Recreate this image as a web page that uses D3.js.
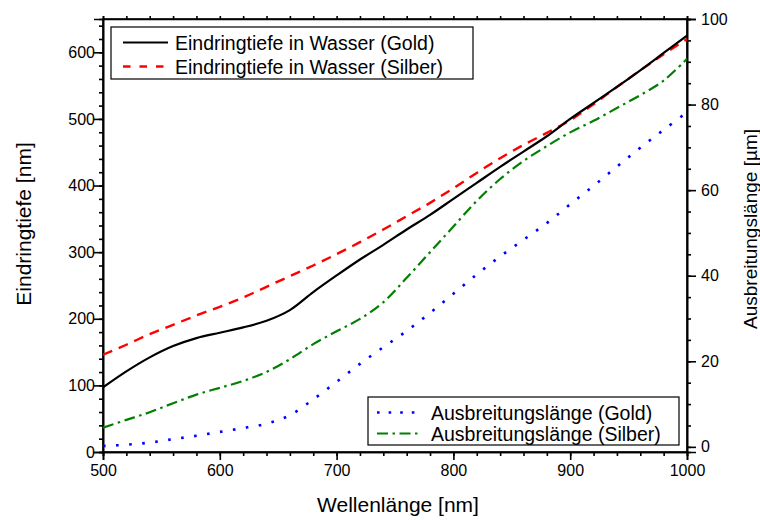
<!DOCTYPE html>
<html>
<head>
<meta charset="utf-8">
<script src="https://cdn.jsdelivr.net/npm/d3@7"></script>
<style>
  body { margin: 0; background: #fff; }
  svg { font-family: "Liberation Sans", Arial, sans-serif; }
</style>
</head>
<body>
<svg id="chart" width="760" height="520"></svg>
<script>
// ---- data ----
const wavelength = [500,520,540,560,580,600,620,640,660,680,700,720,740,760,780,800,820,840,860,880,900,920,940,960,980,1000];
const depthGold   = [97,121,142,159,171,179,187,197,213,240,265,289,311,334,356,380,404,428,451,474,500,524,548,573,599,625];
const depthSilver = [146,161,177,191,205,218,232,248,264,280,297,315,334,354,374,396,419,441,461,479,498,522,548,573,597,620];
const propGold    = [0.2,0.5,1.0,1.8,2.6,3.5,4.4,5.4,7.4,11.1,15.2,19.4,23.3,27.1,31.3,35.8,40.3,44.5,48.4,52.3,56.7,61.0,65.5,69.9,74.1,78.2];
const propSilver  = [4.5,6.3,8.1,10.2,12.2,13.8,15.4,17.5,20.5,24.0,27.0,29.9,33.8,39.5,45.5,51.5,57.5,62.6,66.8,70.3,73.5,76.2,79.2,82.2,85.6,90.7];
const xTicks = [500,600,700,800,900,1000];
const yLeftTicks = [0,100,200,300,400,500,600];
const yRightTicks = [0,20,40,60,80,100];
const legendTop = ["Eindringtiefe in Wasser (Gold)", "Eindringtiefe in Wasser (Silber)"];
const legendBottom = ["Ausbreitungslänge (Gold)", "Ausbreitungslänge (Silber)"];

// ---- layout ----
const L = 103, R = 687, T = 19, B = 452;
const svg = d3.select("#chart");

const x = d3.scaleLinear().domain([500, 1000]).range([L, R]);
const yL = d3.scaleLinear().domain([0, 650]).range([B, T]);
const yR = d3.scaleLinear().domain([-1.2, 100]).range([B, T]);

const minorX = d3.range(500, 1001, 20);
const minorYL = d3.range(0, 651, 20);
const minorYR = d3.range(0, 101, 5);

function styleAxis(g) {
  g.selectAll("path.domain").attr("stroke", "#000").attr("stroke-width", 1.6);
  g.selectAll(".tick line").attr("stroke", "#000").attr("stroke-width", 1.6);
  g.selectAll(".tick text").attr("fill", "#000").attr("font-size", 16)
    .attr("font-family", "Liberation Sans, Arial, sans-serif");
}

// minor ticks
svg.append("g").attr("transform", `translate(0,${B})`)
  .call(d3.axisBottom(x).tickValues(minorX).tickSize(4).tickFormat(""))
  .call(styleAxis);
svg.append("g").attr("transform", `translate(0,${T})`)
  .call(d3.axisTop(x).tickValues(minorX).tickSize(3).tickFormat(""))
  .call(styleAxis);
svg.append("g").attr("transform", `translate(${L},0)`)
  .call(d3.axisLeft(yL).tickValues(minorYL).tickSize(4).tickFormat(""))
  .call(styleAxis);
svg.append("g").attr("transform", `translate(${R},0)`)
  .call(d3.axisRight(yR).tickValues(minorYR).tickSize(4).tickFormat(""))
  .call(styleAxis);

// major ticks with labels
svg.append("g").attr("transform", `translate(0,${B})`)
  .call(d3.axisBottom(x).tickValues(xTicks).tickSize(8).tickPadding(5).tickFormat(d3.format("d")))
  .call(styleAxis);
svg.append("g").attr("transform", `translate(${L},0)`)
  .call(d3.axisLeft(yL).tickValues(yLeftTicks).tickSize(9).tickPadding(-1).tickFormat(d3.format("d")))
  .call(styleAxis);
svg.append("g").attr("transform", `translate(${R},0)`)
  .call(d3.axisRight(yR).tickValues(yRightTicks).tickSize(9).tickPadding(5).tickFormat(d3.format("d")))
  .call(styleAxis);

// frame
svg.append("rect").attr("x", L).attr("y", T).attr("width", R - L).attr("height", B - T)
  .attr("fill", "none").attr("stroke", "#000").attr("stroke-width", 1.6);

// ---- series ----
svg.append("clipPath").attr("id", "clip").append("rect")
  .attr("x", L).attr("y", T).attr("width", R - L).attr("height", B - T);
const plot = svg.append("g").attr("clip-path", "url(#clip)");

const curve = d3.curveCatmullRom.alpha(0.5);
const lineL = d3.line().x((d, i) => x(wavelength[i])).y(d => yL(d)).curve(curve);
const lineR = d3.line().x((d, i) => x(wavelength[i])).y(d => yR(d)).curve(curve);

const series = [
  { data: propGold, line: lineR, color: "#0000ff", dash: "2.6,10.5", width: 2.6 },
  { data: propSilver, line: lineR, color: "#008000", dash: "11,4.5,2.5,4.5", width: 2.2 },
  { data: depthSilver, line: lineL, color: "#ff0000", dash: "10,7", width: 2.4 },
  { data: depthGold, line: lineL, color: "#000000", dash: null, width: 2.2 }
];
series.forEach(s => {
  plot.append("path").attr("d", s.line(s.data)).attr("fill", "none")
    .attr("stroke", s.color).attr("stroke-width", s.width)
    .attr("stroke-dasharray", s.dash);
});

// ---- legends ----
function legend(box, rows) {
  const g = svg.append("g");
  g.append("rect").attr("x", box.x).attr("y", box.y).attr("width", box.w).attr("height", box.h)
    .attr("fill", "#fff").attr("stroke", "#000").attr("stroke-width", 1.2);
  rows.forEach(r => {
    g.append("line").attr("x1", box.sx1).attr("x2", box.sx2).attr("y1", r.y).attr("y2", r.y)
      .attr("stroke", r.color).attr("stroke-width", r.width).attr("stroke-dasharray", r.dash);
    g.append("text").attr("x", box.tx).attr("y", r.y + 7).attr("font-size", 19.5)
      .attr("fill", "#000").text(r.label);
  });
}
legend({ x: 111, y: 27, w: 362, h: 52, sx1: 123, sx2: 168, tx: 175 }, [
  { y: 42.5, color: "#000", width: 2.2, dash: null, label: legendTop[0] },
  { y: 66.5, color: "#ff0000", width: 2.4, dash: "7.5,9", label: legendTop[1] }
]);
legend({ x: 368, y: 397, w: 311, h: 48, sx1: 377, sx2: 422, tx: 431 }, [
  { y: 412.5, color: "#0000ff", width: 2.6, dash: "2.6,9", label: legendBottom[0] },
  { y: 433.5, color: "#008000", width: 2.2, dash: "11,4.5,2.5,4.5", label: legendBottom[1] }
]);

// ---- axis titles ----
svg.append("text").attr("x", (L + R) / 2 + 3).attr("y", 512).attr("text-anchor", "middle")
  .attr("font-size", 21).attr("fill", "#000").text("Wellenlänge [nm]");
svg.append("text").attr("transform", "translate(30.5,224) rotate(-90)").attr("text-anchor", "middle")
  .attr("font-size", 21).attr("fill", "#000").text("Eindringtiefe [nm]");
svg.append("text").attr("transform", "translate(756.5,229) rotate(-90)").attr("text-anchor", "middle")
  .attr("font-size", 19).attr("fill", "#000").text("Ausbreitungslänge [µm]");
</script>
</body>
</html>
